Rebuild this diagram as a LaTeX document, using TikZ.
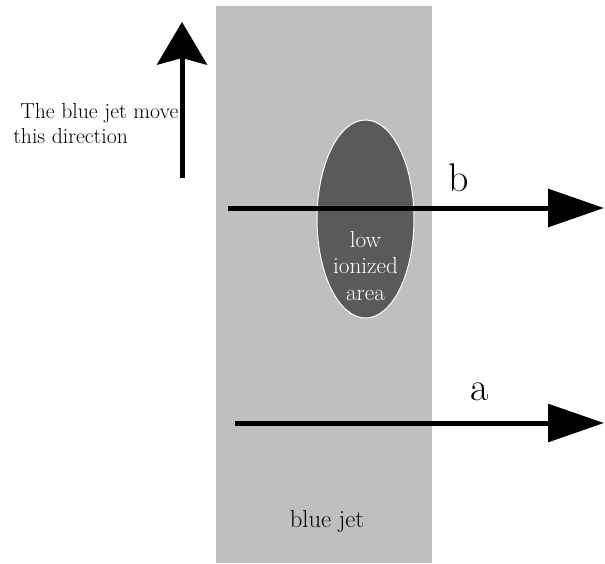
\documentclass[tikz,border=0pt]{standalone}
\usetikzlibrary{arrows.meta,shapes.geometric,positioning}
\definecolor{jetgray}{RGB}{191,191,191}
\definecolor{areagray}{RGB}{90,90,90}

\begin{document}
\begin{tikzpicture}[
			     x=0.75pt, y=-0.75pt,
			     jet/.style={fill=jetgray, draw=none, inner sep=0pt, minimum width=162pt, minimum height=417.75pt},
			     lowarea/.style={ellipse, fill=areagray, draw=white, line width=0.75pt, inner sep=0pt, minimum width=72.75pt, minimum height=148.5pt},
			     label text/.style={font=\fontsize{16.3}{18.75}\selectfont, inner sep=0pt},
			     path letter/.style={font=\fontsize{30}{30}\selectfont, inner sep=0pt, anchor=base west},
			     beam/.style={line width=3.75pt, -{Triangle[length=42pt, width=28pt]}},
			     move arrow/.style={line width=3.75pt, -{Stealth[length=32pt, width=37.5pt, inset=5pt]}}
			     ]
\useasboundingbox (0,0) rectangle (605,563);
\node[jet] (jet) at (324,284.5) {};
\node[lowarea] (area) at (365.5,219) {};
\node[label text, white, align=center, font=\fontsize{17.4}{19.8}\selectfont] (areatext) at (365.5,266) {low\\ionized\\area};
\node[label text, font=\fontsize{18.5}{20}\selectfont] (jettext) at (327,521) {blue jet};
\node[label text, align=left, anchor=west] (dirtext) at (13,123.5) {\hspace*{5.25pt}The blue jet move\\this direction};
% paths through the jet
\coordinate (bstart) at (228,208);
\coordinate (bend) at (604,208);
\coordinate (astart) at (235,423);
\coordinate (aend) at (604,423);
\coordinate (upstart) at (182,178);
\coordinate (upend) at (182,22);
\draw[beam] (bstart) -- (bend);
\draw[beam] (astart) -- (aend);
\draw[move arrow] (upstart) -- (upend);
\node[path letter] (bname) at (448,191) {b};
\node[path letter] (aname) at (470,400) {a};
\end{tikzpicture}
\end{document}
